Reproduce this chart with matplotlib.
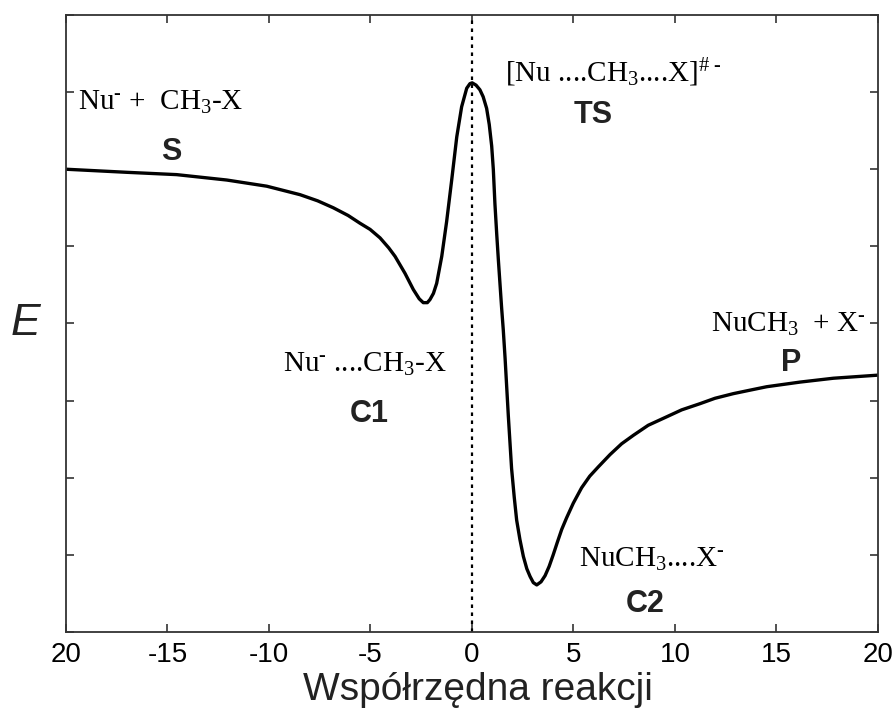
import matplotlib
matplotlib.use("Agg")
import matplotlib.pyplot as plt

# wspolrzedna reakcji i energia
wsp = [-20.0, -17.0, -14.55, -12.08, -10.11, -8.47, -7.6, -6.83, -6.1, -5.52,
       -5.02, -4.53, -4.1, -3.79, -3.30, -2.89, -2.60, -2.40, -2.20, -2.07,
       -1.90, -1.74, -1.49, -1.25, -1.00, -0.75, -0.51, -0.26, -0.10, 0.01,
       0.20, 0.39, 0.55, 0.72, 0.85, 0.97, 1.05, 1.13, 1.22, 1.30,
       1.46, 1.54, 1.63, 1.79, 1.95, 2.08, 2.20, 2.36, 2.53, 2.70,
       2.86, 3.02, 3.19, 3.40, 3.60, 3.80, 4.00, 4.20, 4.42, 4.66,
       4.99, 5.40, 5.80, 6.22, 6.80, 7.37, 7.95, 8.68, 9.59, 10.33,
       11.23, 11.97, 12.87, 13.78, 14.52, 16.16, 17.8, 20.0]
energia = [6.00, 5.96, 5.93, 5.86, 5.78, 5.67, 5.59, 5.50, 5.40, 5.30,
           5.22, 5.11, 4.98, 4.87, 4.65, 4.44, 4.32, 4.27, 4.27, 4.31,
           4.39, 4.52, 4.87, 5.32, 5.86, 6.42, 6.81, 7.05, 7.11, 7.12,
           7.09, 7.03, 6.94, 6.79, 6.58, 6.30, 6.00, 5.55, 5.15, 4.82,
           4.20, 3.92, 3.55, 2.80, 2.12, 1.75, 1.45, 1.20, 0.98, 0.82,
           0.72, 0.64, 0.61, 0.65, 0.73, 0.85, 1.00, 1.16, 1.33, 1.48,
           1.67, 1.87, 2.02, 2.14, 2.30, 2.44, 2.55, 2.68, 2.79, 2.88,
           2.96, 3.03, 3.09, 3.14, 3.18, 3.24, 3.29, 3.33]

xticks = [-20, -15, -10, -5, 0, 5, 10, 15, 20]
xtick_labels = ["20", "-15", "-10", "-5", "0", "5", "10", "15", "20"]
yticks = [0, 1, 2, 3, 4, 5, 6, 7, 8]

plt.rcParams["mathtext.fontset"] = "custom"
plt.rcParams["mathtext.rm"] = "Liberation Serif"
plt.rcParams["mathtext.it"] = "Liberation Serif:italic"
plt.rcParams["font.family"] = "Liberation Sans"

fig = plt.figure(figsize=(8.93, 7.10), dpi=100)
ax = fig.add_axes([0.0739, 0.1099, 0.9093, 0.869])

ax.plot(wsp, energia, color="black", linewidth=2.4,
        solid_joinstyle="round", solid_capstyle="round")
ax.axvline(0, color="black", linewidth=1.6, linestyle=(0, (1.6, 2.0)))

ax.set_xlim(-20, 20)
ax.set_ylim(0, 8)
ax.set_xticks(xticks)
ax.set_xticklabels(xtick_labels, fontsize=20)
ax.set_yticks(yticks)
ax.tick_params(direction="in", top=True, right=True, labelleft=False,
               length=5.5, width=1.2, color="#333333", pad=7)
for s in ax.spines.values():
    s.set_color("#333333")
    s.set_linewidth(1.3)

serif = dict(family="Liberation Serif", fontsize=21, color="black")
bold = dict(family="Liberation Sans", fontsize=22, fontweight="bold",
            color="#222222", ha="center")

ax.text(-19.4, 6.77, r"Nu$^{\text{-}}$ +  CH$_3$-X", ha="left", va="baseline", **serif)
ax.text(-14.83, 6.12, "S", va="baseline", **bold)
ax.text(1.63, 7.13, r"[Nu ....CH$_3$....X]$^{\#\ \text{-}}$", ha="left", va="baseline", **serif)
ax.text(5.96, 6.60, "TS", va="baseline", **bold)
ax.text(-9.31, 3.37, r"Nu$^{\text{-}}$ ....CH$_3$-X", ha="left", va="baseline", **serif)
ax.text(-5.07, 2.72, "C1", va="baseline", **bold)
ax.text(11.77, 3.89, r"NuCH$_3$  + X$^{\text{-}}$", ha="left", va="baseline", **serif)
ax.text(15.71, 3.39, "P", va="baseline", **bold)
ax.text(5.27, 0.84, r"NuCH$_3$....X$^{\text{-}}$", ha="left", va="baseline", **serif)
ax.text(8.52, 0.26, "C2", va="baseline", **bold)

fig.text(25 / 893, 1 - 335 / 710, "E", fontsize=32, fontstyle="italic",
         ha="center", va="baseline", color="#222222")
fig.text(478 / 893, 1 - 700 / 710, "Współrzędna reakcji", fontsize=28,
         ha="center", va="baseline", color="#222222")

fig.savefig("out.png", dpi=100)
